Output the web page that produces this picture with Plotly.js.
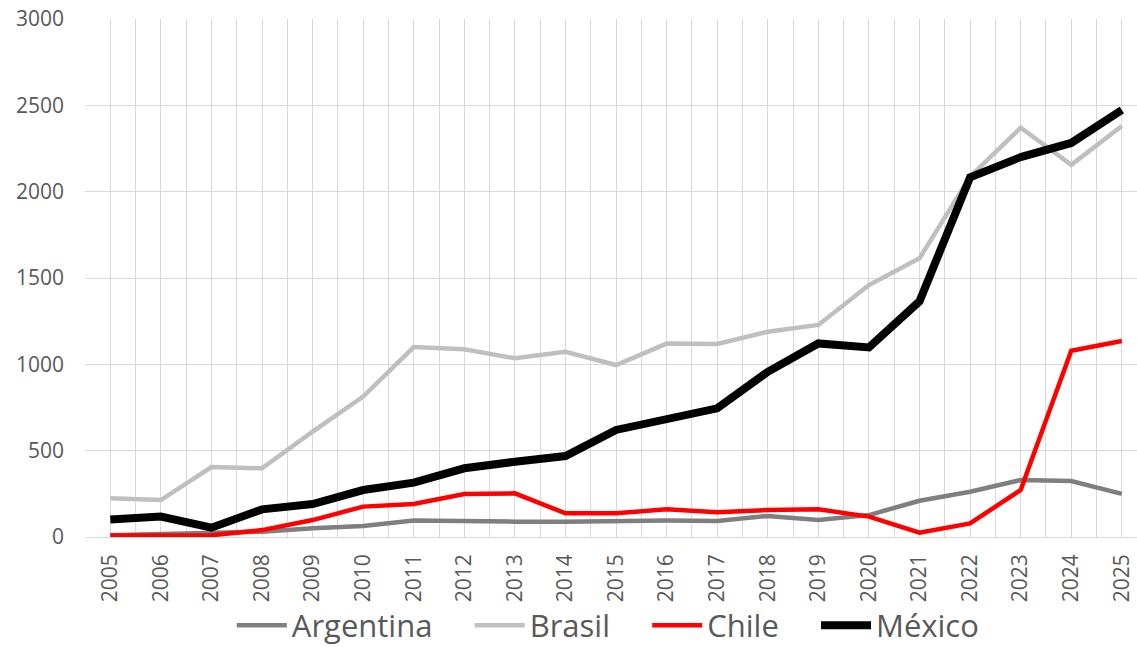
<!DOCTYPE html>
<html>
<head>
<meta charset="utf-8">
<script src="https://cdn.plot.ly/plotly-3.0.1.min.js"></script>
<style>html,body{margin:0;padding:0;background:#fff;}#chart{width:1137px;height:647px;}</style>
</head>
<body>
<div id="chart"></div>
<script>
const years = [2005,2006,2007,2008,2009,2010,2011,2012,2013,2014,2015,2016,2017,2018,2019,2020,2021,2022,2023,2024,2025];
const argentina = [10,15,20,31,50,64,95,89,89,89,95,95,93,122,98,127,210,262,330,324,250];
const brasil = [224,214,405,398,610,813,1100,1087,1035,1073,996,1120,1118,1189,1228,1459,1614,2087,2370,2155,2380];
const chile = [8,8,10,40,98,176,191,249,253,137,137,160,143,156,160,118,25,79,272,1079,1135];
const mexico = [102,118,54,160,191,272,315,398,436,469,620,681,745,957,1121,1098,1365,2083,2200,2282,2473];
const names = ['Argentina','Brasil','Chile','México'];

const pad = '\u00a0\u00a0\u00a0\u00a0';
function tr(name, y, color, width, last) {
  return {x: years, y: y, name: last ? name : name + pad, type: 'scatter', mode: 'lines',
          line: {color: color, width: width}, hoverinfo: 'skip'};
}
const data = [
  tr(names[0], argentina, '#7f7f7f', 4.5),
  tr(names[1], brasil, '#bfbfbf', 4.5),
  tr(names[2], chile, '#ff0000', 4.5),
  tr(names[3], mexico, '#000000', 8, true)
];
const layout = {
  width: 1137, height: 647,
  margin: {l: 85, r: 0, t: 19, b: 110},
  paper_bgcolor: '#ffffff', plot_bgcolor: '#ffffff',
  font: {family: 'Open Sans, sans-serif', color: '#595959'},
  showlegend: true,
  legend: {orientation: 'h', xref: 'container', yref: 'container', x: 0.535, xanchor: 'center',
           y: 0.033, yanchor: 'middle', font: {size: 31, color: '#595959'}, itemwidth: 50,
           bgcolor: 'rgba(0,0,0,0)'},
  xaxis: {range: [2004.5, 2025.3], tickmode: 'linear', tick0: 2005, dtick: 1, tickformat: 'd',
          tickangle: -90, tickfont: {size: 21, color: '#595959'}, ticklabelstandoff: 12,
          ticklabeloverflow: 'allow',
          showgrid: true, gridcolor: '#d9d9d9', gridwidth: 1, zeroline: false, showline: false,
          ticks: '', fixedrange: true,
          minor: {tick0: 2004.5, dtick: 1, showgrid: true, gridcolor: '#d9d9d9', gridwidth: 1, ticks: ''}},
  yaxis: {range: [0, 3000], tickmode: 'linear', tick0: 0, dtick: 500,
          tickfont: {size: 21, color: '#595959'}, ticklabelstandoff: 20,
          showgrid: true, gridcolor: '#d9d9d9', gridwidth: 1, zeroline: true, zerolinecolor: '#d9d9d9',
          zerolinewidth: 1, showline: false, ticks: '', fixedrange: true}
};
Plotly.newPlot('chart', data, layout, {staticPlot: true, displayModeBar: false});
</script>
</body>
</html>
